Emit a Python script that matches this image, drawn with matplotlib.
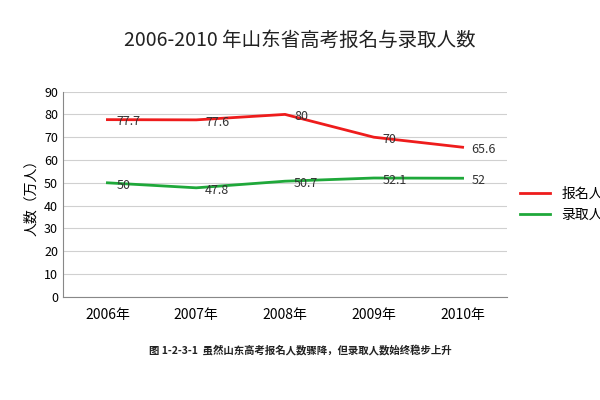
import matplotlib
matplotlib.use("Agg")
import matplotlib.pyplot as plt
from matplotlib import font_manager as fm

names = {f.name for f in fm.fontManager.ttflist}
cjk = [n for n in ["Noto Sans CJK SC", "Noto Sans CJK JP", "Noto Sans CJK TC", "Noto Sans CJK KR"] if n in names]
plt.rcParams['font.family'] = cjk + ['DejaVu Sans']

years = ["2006年", "2007年", "2008年", "2009年", "2010年"]
apply_vals = [77.7, 77.6, 80, 70, 65.6]
admit_vals = [50, 47.8, 50.7, 52.1, 52]
apply_labels = ["77.7", "77.6", "80", "70", "65.6"]
admit_labels = ["50", "47.8", "50.7", "52.1", "52"]

fig = plt.figure(figsize=(6, 4), dpi=100)
ax = fig.add_axes([0.105, 0.258, 0.74, 0.513])
x = list(range(len(years)))
ax.plot(x, apply_vals, color="#ee1c1c", lw=2, label="报名人数")
ax.plot(x, admit_vals, color="#1fa83a", lw=2, label="录取人数")
for xi, v, t in zip(x, apply_vals, apply_labels):
    ax.text(xi + 0.1, v - 1, t, fontsize=9, va="center", ha="left", color="#333")
for xi, v, t in zip(x, admit_vals, admit_labels):
    ax.text(xi + 0.1, v - 1, t, fontsize=9, va="center", ha="left", color="#333")
ax.set_xlim(-0.5, 4.5)
ax.set_ylim(0, 90)
ax.set_yticks(range(0, 91, 10))
ax.set_xticks(x)
ax.set_xticklabels(years, fontsize=10)
ax.tick_params(axis='y', labelsize=9, length=0)
ax.tick_params(axis='x', length=0, pad=8)
ax.grid(axis='y', color="#d0d0d0", lw=0.8)
for s in ["top", "right"]:
    ax.spines[s].set_visible(False)
ax.spines["left"].set_color("#888")
ax.spines["bottom"].set_color("#888")
ax.set_ylabel("人数（万人）", fontsize=10)
ax.legend(loc="center left", bbox_to_anchor=(1.0, 0.45), frameon=False, fontsize=10, handlelength=2.2)
fig.text(0.5, 0.885, "2006-2010 年山东省高考报名与录取人数", ha="center", fontsize=14, color="#222")
fig.text(0.5, 0.115, "图 1-2-3-1  虽然山东高考报名人数骤降，但录取人数始终稳步上升", ha="center", fontsize=7.5, fontweight="bold", color="#222")
fig.savefig("out.png")
